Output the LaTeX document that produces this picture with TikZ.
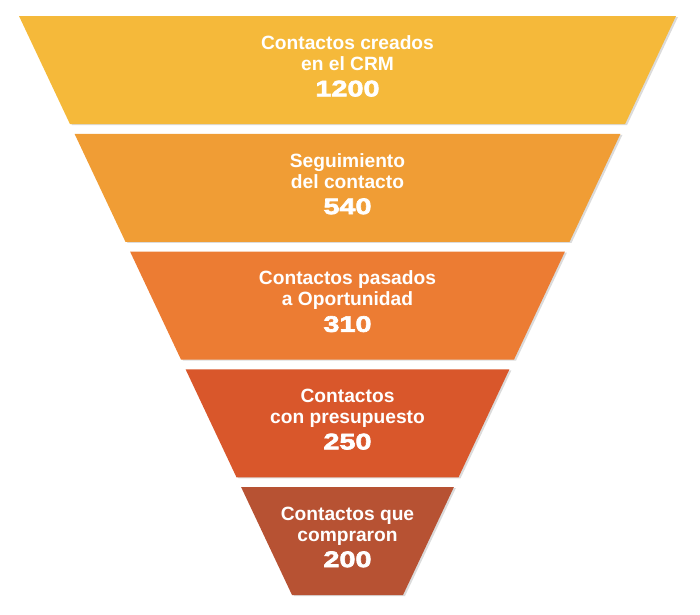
\documentclass[tikz,border=0pt]{standalone}
\usepackage{fontspec}
\setmainfont{Liberation Sans}
\newfontfamily\countfont[FakeStretch=1.28,FakeBold=3]{Liberation Sans}
\definecolor{bandA}{HTML}{F5B93A}
\definecolor{bandB}{HTML}{F09D35}
\definecolor{bandC}{HTML}{EC7C33}
\definecolor{bandD}{HTML}{D9572B}
\definecolor{bandE}{HTML}{B75233}
\tikzset{shade/.style={fill=black!14},
  stagetext/.style={text=white,align=center,inner sep=0pt,
    font=\bfseries\fontsize{19.2}{21}\selectfont}}
\newcommand{\stagecount}[1]{{\countfont\bfseries\fontsize{22.5}{21}\selectfont #1}}

\begin{document}
\begin{tikzpicture}[x=1pt,y=-1pt]
\useasboundingbox (0,0) rectangle (700,614);
\foreach \i/\col/\lbl/\num in {0/bandA/{Contactos creados\\en el CRM}/1200,
  1/bandB/{Seguimiento\\del contacto}/540,
  2/bandC/{Contactos pasados\\a Oportunidad}/310,
  3/bandD/{Contactos\\con presupuesto}/250,
  4/bandE/{Contactos que\\compraron}/200}{
  \pgfmathsetmacro\yt{16+117.75*\i}
  \pgfmathsetmacro\yb{\yt+108}
  \pgfmathsetmacro\xlt{19+0.4715*(\yt-16)}
  \pgfmathsetmacro\xlb{19+0.4715*(\yb-16)}
  % soft shadow on the right side
  \fill[shade] (\xlt+2,\yt+1) -- (697-\xlt,\yt+1) -- (697-\xlb,\yb+1) -- (\xlb+2,\yb+1) -- cycle;
  \fill[\col] (\xlt,\yt) -- (695-\xlt,\yt) -- (695-\xlb,\yb) -- (\xlb,\yb) -- cycle;
  \node[stagetext] (stage\i) at (347.5,\yt+50) {\lbl\\[5pt]\stagecount{\num}};
}
\end{tikzpicture}
\end{document}
